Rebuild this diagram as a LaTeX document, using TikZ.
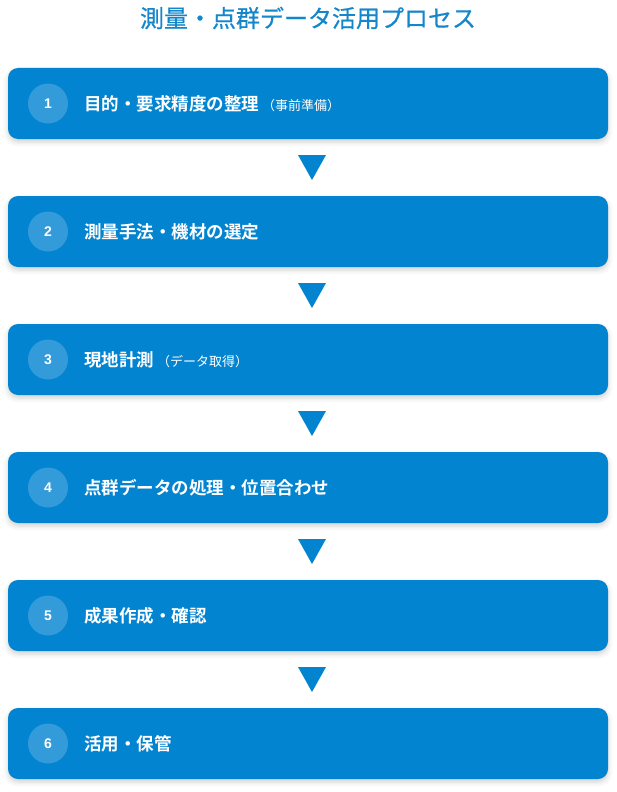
\documentclass[tikz,border=0pt]{standalone}
\usepackage{fontspec}
\setmainfont{Noto Sans CJK JP}[BoldFont={Noto Sans CJK JP Bold}]
\newfontfamily\titlefont{Noto Sans CJK JP}[FakeBold=0.6]
\newfontfamily\numfont{Liberation Sans}[BoldFont={Liberation Sans Bold}]
\usetikzlibrary{shadows.blur}
\definecolor{boxblue}{RGB}{2,132,208}
\definecolor{titleblue}{RGB}{20,134,202}
\definecolor{circblue}{RGB}{52,155,218}
\tikzset{
  stepbox/.style={fill=boxblue, rounded corners=10pt, minimum width=600pt, minimum height=71pt, inner sep=0pt,
    blur shadow={shadow xshift=0pt, shadow yshift=-3pt, shadow blur radius=5pt, shadow opacity=18}},
  numcirc/.style={circle, fill=circblue, minimum size=40pt, inner sep=0pt, text=white, font=\numfont\bfseries\fontsize{14}{14}\selectfont},
  steplabel/.style={anchor=west, text=white, inner sep=0pt, font=\bfseries\fontsize{17.5}{19}\selectfont},
  arrowtri/.style={fill=boxblue, draw=none},
}
\newcommand{\subt}[1]{\hspace{3pt}{\mdseries\fontsize{13}{14}\selectfont #1}}
\begin{document}
\begin{tikzpicture}[x=1pt,y=-1pt]
\useasboundingbox (0,0) rectangle (616,792);
\node[text=titleblue, font=\titlefont\fontsize{24}{26}\selectfont] (title) at (308,18) {測量・点群データ活用プロセス};
\foreach \i/\lab in {1/{目的・要求精度の整理\subt{（事前準備）}},2/{測量手法・機材の選定},3/{現地計測\subt{（データ取得）}},4/{点群データの処理・位置合わせ},5/{成果作成・確認},6/{活用・保管}}{
  \pgfmathsetmacro{\yc}{103.5+128*(\i-1)}
  \node[stepbox] (b\i) at (308,\yc) {};
  \node[numcirc] (c\i) at (48,\yc) {\i};
  \node[steplabel] (t\i) at (84,\yc) {\lab};
}
\foreach \i in {1,...,5}{
  \pgfmathsetmacro{\yt}{155+128*(\i-1)}
  \coordinate (a\i) at (312,\yt);
  \fill[arrowtri] (a\i) ++(-14,0) -- ++(28,0) -- ++(-14,25) -- cycle;
}
\end{tikzpicture}
\end{document}
